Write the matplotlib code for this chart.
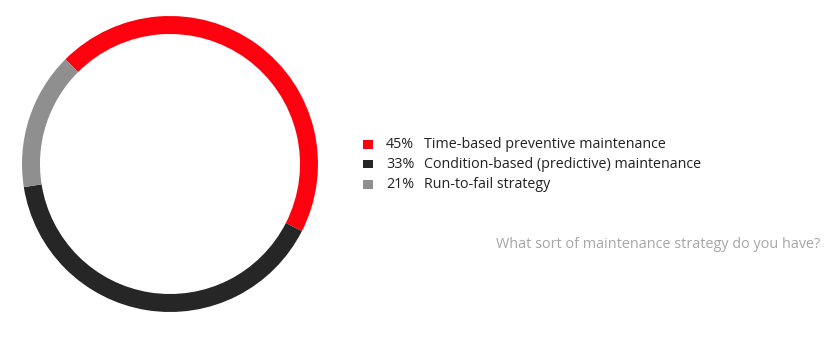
import matplotlib
matplotlib.use("Agg")
import matplotlib.pyplot as plt
from matplotlib.patches import Rectangle

# Data
categories = ["Time-based preventive maintenance",
              "Condition-based (predictive) maintenance",
              "Run-to-fail strategy"]
pct_labels = ["45%", "33%", "21%"]
arc_shares = [45, 40, 15]          # arc sizes as drawn in the picture
colors = ["#ff000f", "#262626", "#8f8f8f"]
question = "What sort of maintenance strategy do you have?"

W, H = 833, 352
fig = plt.figure(figsize=(W / 100, H / 100), dpi=100)
fig.patch.set_facecolor("white")

cx, cy, r = 170, 164, 148
ax = fig.add_axes([(cx - r) / W, (H - cy - r) / H, 2 * r / W, 2 * r / H])
ax.pie(arc_shares, colors=colors, startangle=135, counterclock=False,
       radius=1.0, wedgeprops=dict(width=18 / 148, linewidth=0))
ax.set_xlim(-1, 1)
ax.set_ylim(-1, 1)
ax.set_aspect("equal")
ax.axis("off")

font = "Open Sans"
ys = [144, 164, 184]
for i, (cat, pct) in enumerate(zip(categories, pct_labels)):
    y = ys[i]
    fig.patches.append(Rectangle(((363) / W, (H - y - 4.5) / H), 9.5 / W, 9 / H,
                                 transform=fig.transFigure, color=colors[i],
                                 linewidth=0))
    fig.text(386 / W, (H - y) / H, pct, fontsize=10.3, family=font,
             color="#222222", va="center", ha="left")
    fig.text(424 / W, (H - y) / H, cat, fontsize=10.3, family=font,
             color="#222222", va="center", ha="left")

fig.text(820 / W, (H - 245) / H, question, fontsize=10.4, family=font,
         color="#a6a6a6", va="center", ha="right")

fig.savefig("out.png", dpi=100, facecolor="white")
